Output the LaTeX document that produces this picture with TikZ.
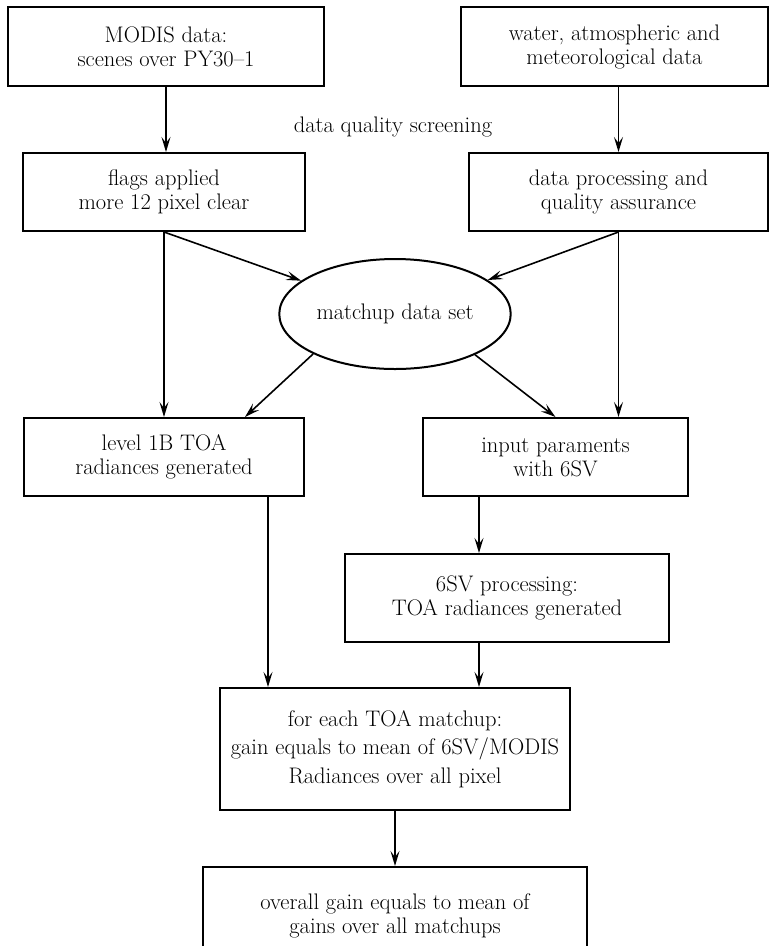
\documentclass[tikz,border=0pt]{standalone}
\usepackage{tikz}
\usetikzlibrary{
  arrows.meta,
  positioning,
  shapes,
}
\tikzstyle{box} = [
  draw,
  rectangle,
  line width=2pt,
  align=center,
  font=\fontsize{22.5}{24}\selectfont,
]
\tikzstyle{arrow} = [
  -{Stealth[length=15pt,width=9pt,inset=6pt]},
  line width=1.6pt,
]

\begin{document}
\begin{tikzpicture}[x=1pt,y=1pt,node distance=0pt and 0pt]
      \clip (0,0) rectangle (769,-946);
      \node[box,minimum width=316,minimum height=79]    (modis) at (166,-46.5)    {MODIS data:\\scenes over PY30--1};
      \node[box,minimum width=307,minimum height=79]    (water) at (614.5,-46.5)    {water, atmospheric and\\meteorological data};
      \node[box,minimum width=282,minimum height=78]    (flags)  [below=65pt of modis,xshift=-2pt]    {flags applied\\more 12 pixel clear};
      \node[box,minimum width=299,minimum height=78]    (proc)  [below=65pt of water,xshift=4pt]    {data processing and\\quality assurance};
      \node[font=\fontsize{22.5}{24}\selectfont]    (screen) at (393,-127)    {data quality screening};
      \node[draw,ellipse,line width=2pt,minimum width=224,minimum height=110,font=\fontsize{22.5}{24}\selectfont]    (match) at (395,-314)    {matchup data set};
      \node[box,minimum width=280,minimum height=78]    (level)  [below=185pt of flags]    {level 1B TOA\\radiances generated};
      \node[box,minimum width=265,minimum height=78]    (input)  [below=185pt of proc,xshift=-63pt]    {input paraments\\with 6SV};
      \node[box,minimum width=324,minimum height=88]    (sixsv)  [below=56pt of input,xshift=-48.5pt]    {6SV processing:\\TOA radiances generated};
      \node[box,minimum width=350,minimum height=122]    (each) at (395,-749)    {for each TOA matchup:\\[4.5pt]gain equals to mean of 6SV/MODIS\\[4.5pt]Radiances over all pixel};
      \node[box,minimum width=384,minimum height=97]    (overall)  [below=55pt of each]    {overall gain equals to mean of\\gains over all matchups};

      \draw[arrow] (modis.south) -- (modis.south |- flags.north);
      \draw[arrow] (proc.north |- water.south) -- (proc.north);
      \draw[arrow] (flags.south) -- (match);
      \draw[arrow] (proc.south) -- (match);
      \draw[arrow] (flags.south) -- (flags.south |- level.north);
      \draw[arrow] (proc.south) -- (proc.south |- input.north);
      \draw[arrow] (match.206) -- ([xshift=81pt]level.north);
      \draw[arrow] (match.333) -- (input.north);
      \coordinate (lvout) at ([xshift=104pt]level.south);
      \draw[arrow] (lvout) -- (lvout |- each.north);
      \coordinate (sxin) at ([xshift=-76.5pt]input.south);
      \draw[arrow] (sxin) -- (sxin |- sixsv.north);
      \draw[arrow] (sxin |- sixsv.south) -- (sxin |- each.north);
      \draw[arrow] (each.south) -- (overall.north);
    \end{tikzpicture}
\end{document}
